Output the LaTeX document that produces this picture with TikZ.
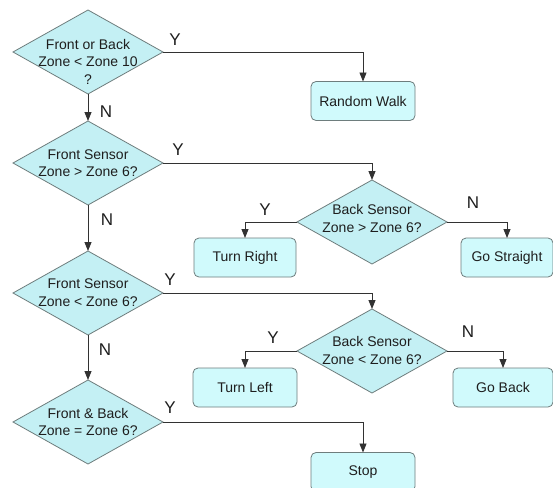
\documentclass[tikz,border=0pt]{standalone}
\usepackage{fontspec}
\setmainfont{Liberation Sans}
\usetikzlibrary{shapes.geometric,arrows.meta}
\definecolor{diafill}{RGB}{196,240,244}
\definecolor{boxfill}{RGB}{208,250,252}
\definecolor{edgecol}{RGB}{110,125,125}
\definecolor{linecol}{RGB}{50,50,50}
\definecolor{txtcol}{RGB}{30,30,30}
\tikzset{
  dia/.style={diamond, draw=edgecol, fill=diafill, line width=0.8pt, inner sep=0pt, outer sep=0pt, minimum width=150pt, minimum height=84pt},
  diatext/.style={align=center, text=txtcol, font=\fontsize{14}{17.5}\selectfont, inner sep=0pt},
  actbox/.style={draw=edgecol, fill=boxfill, rounded corners=5pt, line width=0.8pt, minimum height=39pt, outer sep=0pt, text=txtcol, font=\fontsize{14}{17}\selectfont},
  conn/.style={draw=linecol, line width=0.9pt, -{Triangle[width=7pt,length=9pt]}},
  yn/.style={text=txtcol, font=\fontsize{17}{17}\selectfont, inner sep=0pt}
}
\begin{document}
\begin{tikzpicture}[x=1pt,y=-1pt]
\useasboundingbox[fill=white] (0,0) rectangle (553,487);
% main decision diamonds
\node[dia] (d1) at (88,52) {};
\node[diatext] (t1) at (88,61.5) {Front or Back\\Zone < Zone 10\\?};
\node[dia] (d2) at (88,163) {};
\node[diatext] (t2) at (88,163) {Front Sensor\\Zone > Zone 6?};
\node[dia] (d3) at (88,293) {};
\node[diatext] (t3) at (88,292.5) {Front Sensor\\Zone < Zone 6?};
\node[dia] (d4) at (88,422) {};
\node[diatext] (t4) at (88,422) {Front \& Back\\Zone = Zone 6?};
% side diamonds
\node[dia] (b1) at (372,222) {};
\node[diatext] (tb1) at (372,218.5) {Back Sensor\\Zone > Zone 6?};
\node[dia] (b2) at (372,351) {};
\node[diatext] (tb2) at (372,350.5) {Back Sensor\\Zone < Zone 6?};
% action boxes
\node[actbox, minimum width=104pt] (rw) at (363,101) {Random Walk};
\node[actbox, minimum width=102pt] (tr) at (245,257.5) {Turn Right};
\node[actbox, minimum width=92pt] (gs) at (507,257.5) {Go Straight};
\node[actbox, minimum width=104pt] (tl) at (245,387.5) {Turn Left};
\node[actbox, minimum width=100pt] (gb) at (503,387.5) {Go Back};
\node[actbox, minimum width=104pt] (st) at (363,472) {Stop};
% connectors
\draw[conn] (d1.south) -- (d2.north);
\draw[conn] (d2.south) -- (d3.north);
\draw[conn] (d3.south) -- (d4.north);
\draw[conn] (d1.east) -| (rw.north);
\draw[conn] (d2.east) -| (b1.north);
\draw[conn] (d3.east) -| (b2.north);
\draw[conn] (d4.east) -| (st.north);
\draw[conn] (b1.west) -| (tr.north);
\draw[conn] (b1.east) -| (gs.north);
\draw[conn] (b2.west) -| (tl.north);
\draw[conn] (b2.east) -| (gb.north);
% labels
\node[yn] (y1) at (175,40) {Y};
\node[yn] (n1) at (106,112) {N};
\node[yn] (y2) at (178,150) {Y};
\node[yn] (n2) at (107,220) {N};
\node[yn] (y3) at (170,280) {Y};
\node[yn] (n3) at (105,350) {N};
\node[yn] (y4) at (170,408) {Y};
\node[yn] (yb1) at (265,210) {Y};
\node[yn] (nb1) at (473,203) {N};
\node[yn] (yb2) at (273,338) {Y};
\node[yn] (nb2) at (468,332) {N};
\end{tikzpicture}
\end{document}
